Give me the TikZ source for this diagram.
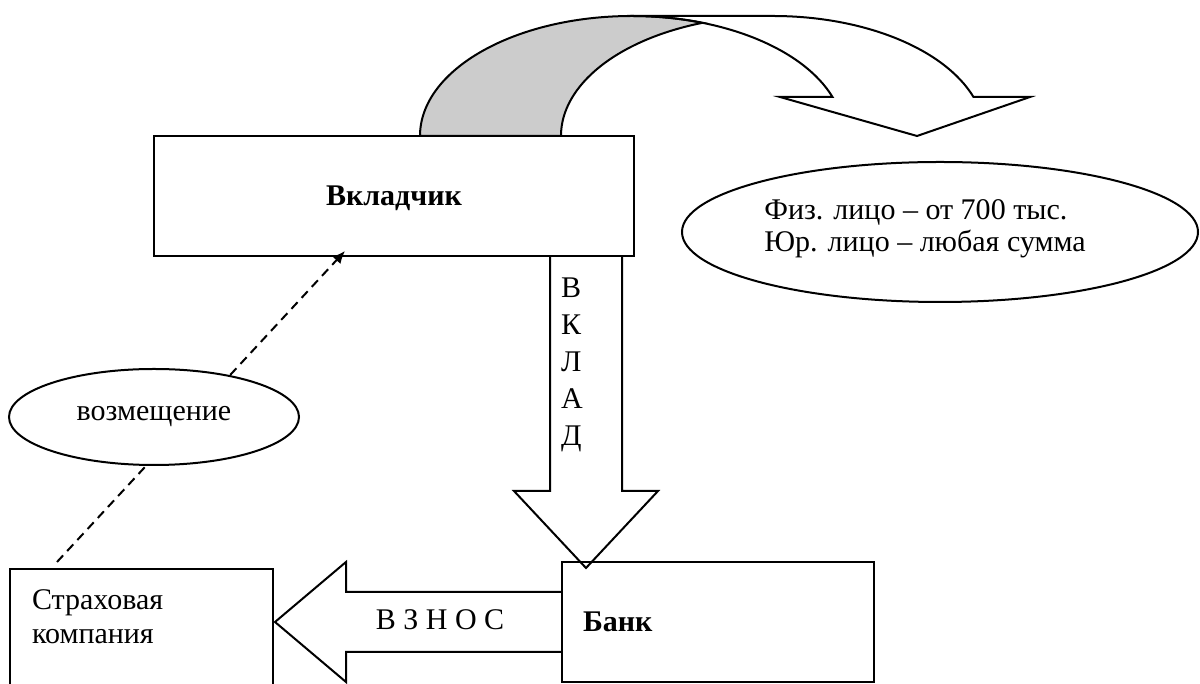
\documentclass[12pt,tikz,border=0pt]{standalone}
\usepackage{fontspec}
\setmainfont{Liberation Serif}
\usetikzlibrary{shapes.geometric,arrows.meta}

\begin{document}
\begin{tikzpicture}[x=0.4pt,y=-0.4pt,line width=0.8pt,
  box/.style={draw, rectangle, inner sep=0pt, outer sep=0pt},
  oval/.style={draw, ellipse, inner sep=0pt, outer sep=0pt, fill=white},
  blockarrow/.style={draw, line join=miter},
  dashlink/.style={draw, dash pattern=on 3.6pt off 2.4pt, -{Latex[length=5pt,width=4.4pt]}}]

\useasboundingbox (0,0) rectangle (1200,684);
\clip (0,0) rectangle (1200,684);

\draw[fill=black!20] (420,136) arc[start angle=180,end angle=90,x radius=84.8pt,y radius=48pt]
  arc[start angle=90,end angle=70.58,x radius=84.8pt,y radius=48pt]
  arc[start angle=109.42,end angle=180,x radius=84.8pt,y radius=48pt] -- cycle;
\draw[blockarrow] (632,16) -- (773,16) arc[start angle=90,end angle=18.97,x radius=84.8pt,y radius=48pt]
  -- (1030,97) -- (917,136) -- (780,97) -- (832.5,97)
  arc[start angle=18.97,end angle=90,x radius=84.8pt,y radius=48pt] -- cycle;

\node[box, minimum width=192pt, minimum height=48pt, text depth=0pt, font=\bfseries] (vklad) at (394,196) {Вкладчик};
\node[box, minimum width=124.8pt, minimum height=48pt, inner xsep=8.4pt, text width=108pt, text depth=0pt, align=left, font=\bfseries] (bank) at (718,622) {Банк};
\node[box, anchor=north west, inner xsep=8.8pt, inner ysep=8pt, text width=87.6pt, text height=8.4pt, text depth=28pt, align=left, font=\fontsize{12}{13.6}\selectfont] (insurer) at (10,569) {Страховая\\компания};

\draw[dashlink] ([shift={(47,-7)}]insurer.north west) -- ([shift={(191,-5)}]vklad.south west);
\node[oval, minimum width=116pt, minimum height=38.4pt] (repay) at (154,417) {возмещение};

\node[oval, minimum width=206.4pt, minimum height=56pt] (limits) at (940,232) {};
\node[align=left, inner sep=0pt, font=\fontsize{12}{12.6}\selectfont] (limitstext) at (925,229) {Физ. лицо – от 700 тыс.\\Юр. лицо – любая сумма};

\coordinate (vtop) at ([shift={(-48,0)}]vklad.south east);
\coordinate (vtip) at ([shift={(24,6)}]bank.north west);
\draw[blockarrow] ([shift={(-36,0)}]vtop) -- ++(0,235) -- ++(-36,0) -- (vtip) -- ++(72,-77) -- ++(-36,0) -- ([shift={(36,0)}]vtop);
\node[inner sep=0pt, anchor=north west, align=left, font=\fontsize{12}{14.8}\selectfont] (deposit) at (560,277) {В\\К\\Л\\А\\Д};

\coordinate (wtip) at ([shift={(2,53)}]insurer.north east);
\draw[blockarrow] ([shift={(0,-30)}]bank.west) -- ++(-216,0) -- ++(0,-30) -- (wtip) -- ++(71,60) -- ++(0,-30) -- ([shift={(0,30)}]bank.west);
\node (premium) at (440,620) {В З Н О С};
\end{tikzpicture}
\end{document}
